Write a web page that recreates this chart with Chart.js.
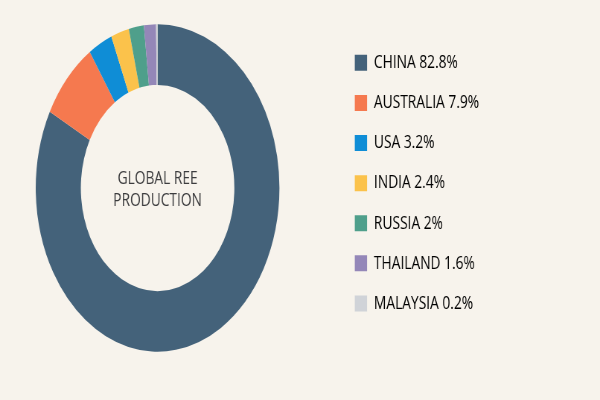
<!DOCTYPE html>
<html>
<head>
<meta charset="utf-8">
<style>
  html, body { margin: 0; padding: 0; width: 600px; height: 400px; overflow: hidden; background: #f7f3ec; }
  /* the reference is squeezed horizontally, so the whole chart is too */
  #wrap { width: 806px; height: 400px; transform: scaleX(0.7444); transform-origin: 0 0; }
</style>
<script src="https://cdn.jsdelivr.net/npm/chart.js@4"></script>
</head>
<body>
<div id="wrap"><canvas id="chart" width="806" height="400"></canvas></div>
<script>
const countries = ['CHINA', 'AUSTRALIA', 'USA', 'INDIA', 'RUSSIA', 'THAILAND', 'MALAYSIA'];
const shares = [82.8, 7.9, 3.2, 2.4, 2, 1.6, 0.2];
const colors = ['#44627a', '#f5794f', '#0f8dd6', '#fbc24b', '#4f9f8b', '#9487b8', '#d0d3d8'];
const centerLines = ['GLOBAL REE', 'PRODUCTION'];

const fontName = '"Open Sans"';

// moves the legend next to the ring, the layout would push it to the far edge
const placeLegend = {
    id: 'placeLegend',
    afterLayout(chart) {
        const legend = chart.legend;
        const w = legend.right - legend.left;
        const h = legend.bottom - legend.top;
        legend.left = 455;
        legend.right = 455 + w;
        legend.top = 32;
        legend.bottom = 32 + h;
    }
};

const centerText = {
    id: 'centerText',
    afterDraw(chart) {
        const ctx = chart.ctx;
        ctx.save();
        ctx.font = '18.5px ' + fontName;
        ctx.fillStyle = '#3c3c3e';
        ctx.textAlign = 'center';
        ctx.textBaseline = 'middle';
        const cx = (chart.chartArea.left + chart.chartArea.right) / 2;
        ctx.fillText(centerLines[0], cx, 179);
        ctx.fillText(centerLines[1], cx, 201);
        ctx.restore();
    }
};

new Chart(document.getElementById('chart').getContext('2d'), {
    type: 'doughnut',
    data: {
        labels: countries,
        datasets: [{
            data: shares,
            backgroundColor: colors,
            borderWidth: 0,
            hoverOffset: 0
        }]
    },
    plugins: [placeLegend, centerText],
    options: {
        responsive: false,
        animation: false,
        cutout: '63%',
        layout: { padding: { top: 24, bottom: 48, left: 48, right: 232 } },
        plugins: {
            tooltip: { enabled: false },
            legend: {
                position: 'right',
                align: 'start',
                maxWidth: 340,
                labels: {
                    boxWidth: 16.5,
                    boxHeight: 16,
                    padding: 21.6,
                    color: '#3c3c3e',
                    font: { family: fontName, size: 18.5 },
                    generateLabels(chart) {
                        return countries.map((name, i) => ({
                            text: name + ' ' + shares[i] + '%',
                            fillStyle: colors[i],
                            strokeStyle: colors[i],
                            lineWidth: 0,
                            index: i
                        }));
                    }
                }
            }
        }
    }
});
</script>
</body>
</html>
